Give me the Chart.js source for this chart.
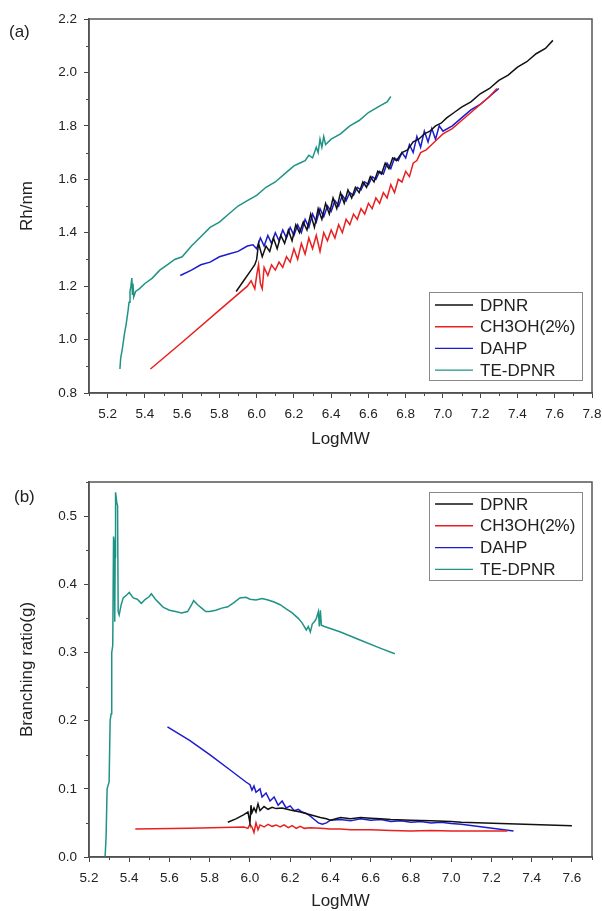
<!DOCTYPE html>
<html><head><meta charset="utf-8">
<script src="https://cdn.jsdelivr.net/npm/chart.js@4.4.1/dist/chart.umd.min.js"></script>
<style>
html,body{margin:0;padding:0;background:#fff;}
#wrap{position:relative;width:602px;height:911px;overflow:hidden;}
canvas{position:absolute;left:0;}
#c1{top:0}
#c2{top:450px}
.pl{position:absolute;font-family:"Liberation Sans",Arial,sans-serif;font-size:17px;color:#222;}
</style></head><body>
<div id="wrap">
<canvas id="c1" width="602" height="450"></canvas>
<canvas id="c2" width="602" height="461"></canvas>
<div class="pl" style="left:9px;top:22px;">(a)</div>
<div class="pl" style="left:14px;top:487px;">(b)</div>
</div>
<script>
// ---- series names / colours
const seriesNames = ['DPNR', 'CH3OH(2%)', 'DAHP', 'TE-DPNR'];
const seriesColors = ['#111111', '#e8201f', '#1c1ccf', '#1f9386'];

// ---- panel (a): Rh/nm vs LogMW  [LogMW, Rh]
const topDpnr = [[5.89,1.18],[5.93,1.22],[5.97,1.26],[5.99,1.28],[6.00,1.30],[6.01,1.36],[6.03,1.31],[6.05,1.35],[6.07,1.33],[6.09,1.38],[6.11,1.34],[6.13,1.39],[6.15,1.36],[6.17,1.41],[6.19,1.37],[6.21,1.43],[6.23,1.40],[6.25,1.44],[6.27,1.41],[6.29,1.47],[6.31,1.42],[6.33,1.49],[6.35,1.45],[6.37,1.51],[6.39,1.47],[6.41,1.53],[6.43,1.49],[6.45,1.55],[6.47,1.51],[6.49,1.56],[6.51,1.53],[6.53,1.57],[6.55,1.55],[6.57,1.59],[6.59,1.57],[6.61,1.61],[6.63,1.59],[6.65,1.63],[6.67,1.62],[6.69,1.66],[6.71,1.64],[6.73,1.68],[6.75,1.67],[6.78,1.70],[6.81,1.71],[6.84,1.74],[6.87,1.75],[6.90,1.77],[6.93,1.78],[6.96,1.80],[6.99,1.81],[7.02,1.83],[7.06,1.85],[7.10,1.87],[7.15,1.89],[7.20,1.92],[7.25,1.94],[7.30,1.97],[7.35,1.99],[7.40,2.02],[7.45,2.04],[7.50,2.07],[7.55,2.09],[7.59,2.12]];
const topCh3oh = [[5.43,0.89],[5.60,0.99],[5.80,1.11],[5.95,1.20],[5.97,1.22],[5.99,1.19],[6.00,1.24],[6.01,1.28],[6.02,1.21],[6.03,1.19],[6.04,1.27],[6.06,1.24],[6.08,1.28],[6.10,1.26],[6.12,1.29],[6.14,1.27],[6.16,1.31],[6.18,1.29],[6.20,1.34],[6.22,1.30],[6.24,1.36],[6.26,1.32],[6.28,1.38],[6.30,1.34],[6.32,1.39],[6.34,1.33],[6.36,1.40],[6.38,1.37],[6.40,1.41],[6.42,1.38],[6.44,1.43],[6.46,1.40],[6.48,1.45],[6.50,1.43],[6.52,1.47],[6.54,1.45],[6.56,1.49],[6.58,1.47],[6.60,1.51],[6.62,1.49],[6.64,1.53],[6.66,1.51],[6.68,1.55],[6.70,1.53],[6.72,1.58],[6.74,1.55],[6.76,1.60],[6.78,1.59],[6.80,1.63],[6.82,1.61],[6.84,1.66],[6.86,1.67],[6.88,1.70],[6.91,1.71],[6.94,1.73],[6.97,1.75],[7.00,1.77],[7.05,1.79],[7.10,1.82],[7.15,1.85],[7.20,1.88],[7.25,1.91],[7.29,1.94]];
const topDahp = [[5.59,1.24],[5.65,1.26],[5.70,1.28],[5.75,1.29],[5.80,1.31],[5.85,1.32],[5.90,1.33],[5.95,1.35],[5.98,1.355],[6.00,1.34],[6.02,1.38],[6.04,1.35],[6.06,1.39],[6.08,1.36],[6.10,1.40],[6.12,1.37],[6.14,1.41],[6.16,1.38],[6.18,1.42],[6.20,1.39],[6.22,1.43],[6.24,1.40],[6.26,1.45],[6.28,1.42],[6.30,1.47],[6.32,1.44],[6.34,1.49],[6.36,1.46],[6.38,1.50],[6.40,1.48],[6.42,1.52],[6.44,1.50],[6.46,1.54],[6.48,1.52],[6.50,1.55],[6.52,1.54],[6.54,1.57],[6.56,1.56],[6.58,1.59],[6.60,1.58],[6.62,1.61],[6.64,1.60],[6.66,1.63],[6.68,1.62],[6.70,1.66],[6.72,1.64],[6.74,1.68],[6.76,1.67],[6.78,1.70],[6.80,1.68],[6.82,1.73],[6.84,1.70],[6.86,1.76],[6.88,1.72],[6.90,1.78],[6.92,1.74],[6.94,1.79],[6.96,1.75],[6.98,1.80],[7.00,1.78],[7.05,1.80],[7.10,1.83],[7.15,1.86],[7.20,1.88],[7.25,1.91],[7.30,1.94]];
const topTeDpnr = [[5.266,0.89],[5.27,0.93],[5.28,0.97],[5.29,1.02],[5.30,1.06],[5.31,1.11],[5.315,1.14],[5.32,1.18],[5.325,1.20],[5.33,1.23],[5.333,1.17],[5.336,1.21],[5.34,1.16],[5.35,1.18],[5.37,1.19],[5.40,1.21],[5.44,1.23],[5.48,1.26],[5.52,1.28],[5.56,1.30],[5.60,1.31],[5.65,1.35],[5.70,1.385],[5.75,1.42],[5.80,1.44],[5.85,1.47],[5.90,1.50],[5.95,1.52],[6.00,1.54],[6.05,1.57],[6.10,1.59],[6.15,1.62],[6.20,1.65],[6.23,1.66],[6.26,1.67],[6.28,1.69],[6.30,1.68],[6.32,1.72],[6.33,1.70],[6.34,1.75],[6.35,1.72],[6.36,1.76],[6.37,1.73],[6.40,1.75],[6.45,1.77],[6.50,1.80],[6.55,1.82],[6.60,1.85],[6.65,1.87],[6.70,1.89],[6.72,1.91]];

// ---- panel (b): Branching ratio(g) vs LogMW  [LogMW, g]
const botDpnr = [[5.89,0.051],[5.93,0.056],[5.97,0.062],[5.99,0.066],[6.00,0.050],[6.005,0.076],[6.01,0.065],[6.02,0.072],[6.03,0.066],[6.04,0.078],[6.05,0.068],[6.07,0.074],[6.09,0.070],[6.11,0.073],[6.13,0.071],[6.16,0.072],[6.20,0.069],[6.25,0.066],[6.30,0.062],[6.35,0.058],[6.38,0.056],[6.40,0.054],[6.45,0.058],[6.50,0.056],[6.55,0.058],[6.60,0.057],[6.65,0.056],[6.70,0.055],[6.80,0.054],[6.90,0.053],[7.00,0.052],[7.05,0.051],[7.60,0.046]];
const botCh3oh = [[5.43,0.041],[5.70,0.042],[5.97,0.044],[5.99,0.042],[6.00,0.048],[6.01,0.044],[6.02,0.036],[6.03,0.050],[6.04,0.040],[6.05,0.047],[6.07,0.044],[6.09,0.048],[6.11,0.045],[6.13,0.047],[6.15,0.044],[6.17,0.047],[6.19,0.043],[6.21,0.046],[6.23,0.042],[6.25,0.045],[6.27,0.042],[6.30,0.043],[6.35,0.042],[6.40,0.041],[6.45,0.041],[6.50,0.040],[6.60,0.040],[6.70,0.039],[6.80,0.038],[6.90,0.039],[7.00,0.038],[7.28,0.038]];
const botDahp = [[5.59,0.191],[5.70,0.171],[5.80,0.150],[5.90,0.128],[5.98,0.110],[6.00,0.106],[6.01,0.098],[6.02,0.104],[6.03,0.095],[6.05,0.100],[6.06,0.088],[6.08,0.094],[6.10,0.082],[6.12,0.088],[6.14,0.076],[6.16,0.082],[6.18,0.072],[6.20,0.075],[6.22,0.068],[6.24,0.070],[6.26,0.066],[6.28,0.064],[6.30,0.060],[6.32,0.055],[6.34,0.050],[6.36,0.048],[6.38,0.050],[6.40,0.054],[6.45,0.055],[6.50,0.053],[6.55,0.056],[6.60,0.054],[6.65,0.055],[6.70,0.052],[6.75,0.053],[6.80,0.051],[6.85,0.052],[6.90,0.050],[6.95,0.051],[7.00,0.049],[7.05,0.048],[7.31,0.038]];
const botTeDpnr = [[5.28,0.0],[5.285,0.03],[5.29,0.10],[5.30,0.11],[5.305,0.20],[5.31,0.21],[5.313,0.30],[5.318,0.31],[5.322,0.47],[5.326,0.46],[5.328,0.345],[5.33,0.44],[5.332,0.535],[5.338,0.52],[5.342,0.515],[5.345,0.36],[5.35,0.355],[5.36,0.37],[5.37,0.38],[5.39,0.385],[5.40,0.388],[5.42,0.38],[5.44,0.378],[5.46,0.372],[5.48,0.378],[5.50,0.382],[5.51,0.386],[5.53,0.378],[5.55,0.372],[5.57,0.366],[5.60,0.362],[5.63,0.36],[5.66,0.358],[5.69,0.36],[5.71,0.37],[5.72,0.376],[5.74,0.37],[5.76,0.365],[5.78,0.36],[5.80,0.36],[5.83,0.362],[5.86,0.365],[5.89,0.367],[5.92,0.373],[5.95,0.38],[5.98,0.381],[6.00,0.378],[6.03,0.377],[6.06,0.379],[6.09,0.377],[6.12,0.374],[6.15,0.370],[6.18,0.364],[6.21,0.358],[6.24,0.350],[6.26,0.343],[6.28,0.333],[6.29,0.338],[6.30,0.330],[6.31,0.342],[6.32,0.345],[6.33,0.350],[6.34,0.360],[6.345,0.338],[6.35,0.362],[6.355,0.340],[6.37,0.338],[6.45,0.330],[6.55,0.318],[6.65,0.306],[6.72,0.298]];

const FONT = '"Liberation Sans", Arial, sans-serif';
const TXT = '#222';

function isMajor(v, step) {
  const r = v / step;
  return Math.abs(r - Math.round(r)) < 1e-6;
}
function toPts(arr) { return arr.map(p => ({x: p[0], y: p[1]})); }

const framePlugin = {
  id: 'frame',
  afterDraw(chart, args, o) {
    const {ctx, chartArea: a} = chart;
    const xs = chart.scales.x, ys = chart.scales.y;
    ctx.save();
    ctx.strokeStyle = '#444'; ctx.lineWidth = 1;
    xs.ticks.forEach(t => {
      if (!isMajor(t.value, o.xMajor)) {
        const px = Math.round(xs.getPixelForValue(t.value)) + 0.5;
        ctx.beginPath(); ctx.moveTo(px, a.bottom); ctx.lineTo(px, a.bottom + 3); ctx.stroke();
      }
    });
    ys.ticks.forEach(t => {
      if (!isMajor(t.value, o.yMajor)) {
        const py = Math.round(ys.getPixelForValue(t.value)) + 0.5;
        ctx.beginPath(); ctx.moveTo(a.left, py); ctx.lineTo(a.left - 3, py); ctx.stroke();
      }
    });
    ctx.strokeStyle = '#555'; ctx.lineWidth = 1.5;
    ctx.strokeRect(a.left, a.top, a.right - a.left, a.bottom - a.top);
    const L = o.legend;
    ctx.fillStyle = '#fff';
    ctx.fillRect(L.x, L.y, L.w, L.h);
    ctx.strokeStyle = '#888'; ctx.lineWidth = 1;
    ctx.strokeRect(L.x + 0.5, L.y + 0.5, L.w, L.h);
    ctx.font = '17px ' + FONT;
    ctx.textBaseline = 'middle';
    chart.data.datasets.forEach((ds, i) => {
      const yy = L.y + L.first + i * L.gap;
      ctx.strokeStyle = ds.borderColor; ctx.lineWidth = 1.4;
      ctx.beginPath(); ctx.moveTo(L.x + 6, yy); ctx.lineTo(L.x + 44, yy); ctx.stroke();
      ctx.fillStyle = TXT;
      ctx.fillText(ds.label, L.x + 51, yy + 1);
    });
    ctx.restore();
  }
};

function makeChart(id, sets, cfg) {
  return new Chart(document.getElementById(id), {
    type: 'line',
    data: {
      datasets: sets.map((s, i) => ({
        label: seriesNames[i], data: toPts(s), borderColor: seriesColors[i],
        backgroundColor: seriesColors[i], borderWidth: 1.5, pointRadius: 0, tension: 0, fill: false
      }))
    },
    options: {
      responsive: false, animation: false, devicePixelRatio: 1,
      layout: {padding: cfg.padding},
      plugins: {legend: {display: false}, tooltip: {enabled: false}, frame: cfg.frame},
      scales: {
        x: {
          type: 'linear', min: cfg.xMin, max: cfg.xMax,
          afterFit: s => { s.height = cfg.xAxisH; s.paddingLeft = 0; s.paddingRight = 0; },
          border: {display: true, color: '#444', width: 1.5},
          grid: {drawOnChartArea: false, drawTicks: true, tickLength: 5, tickWidth: 1,
                 tickColor: c => isMajor(c.tick.value, cfg.frame.xMajor) ? '#444' : 'rgba(0,0,0,0)'},
          ticks: {stepSize: 0.1, autoSkip: false, maxRotation: 0, maxTicksLimit: 200, padding: 8,
                  color: TXT, font: {family: FONT, size: 13.5},
                  callback: v => isMajor(v, cfg.frame.xMajor) ? Number(v).toFixed(1) : ''},
          title: {display: true, text: 'LogMW', color: TXT, font: {family: FONT, size: 17, lineHeight: 1.1}, padding: {top: 0, bottom: cfg.xTitlePad}}
        },
        y: {
          type: 'linear', min: cfg.yMin, max: cfg.yMax,
          afterFit: s => { s.width = 89; s.paddingTop = 0; s.paddingBottom = 0; },
          border: {display: true, color: '#444', width: 1.5},
          grid: {drawOnChartArea: false, drawTicks: true, tickLength: 5, tickWidth: 1,
                 tickColor: c => isMajor(c.tick.value, cfg.frame.yMajor) ? '#444' : 'rgba(0,0,0,0)'},
          ticks: {stepSize: cfg.yStep, autoSkip: false, maxTicksLimit: 200, padding: 7,
                  color: TXT, font: {family: FONT, size: 13.5},
                  callback: v => isMajor(v, cfg.frame.yMajor) ? Number(v).toFixed(1) : ''},
          title: {display: true, text: cfg.yTitle, color: TXT, font: {family: FONT, size: 17, lineHeight: 1.1}, padding: {top: 18, bottom: 0}}
        }
      }
    },
    plugins: [framePlugin]
  });
}

makeChart('c1', [topDpnr, topCh3oh, topDahp, topTeDpnr], {
  padding: {left: 0, right: 10, top: 19, bottom: 0},
  xMin: 5.1, xMax: 7.8, yMin: 0.8, yMax: 2.2, yStep: 0.1,
  xAxisH: 57, xTitlePad: 1, yTitle: 'Rh/nm',
  frame: {xMajor: 0.2, yMajor: 0.2, legend: {x: 429, y: 292, w: 153, h: 88, first: 13, gap: 21.7}}
});
makeChart('c2', [botDpnr, botCh3oh, botDahp, botTeDpnr], {
  padding: {left: 0, right: 10, top: 32, bottom: 0},
  xMin: 5.2, xMax: 7.7, yMin: 0, yMax: 0.55, yStep: 0.05,
  xAxisH: 54, xTitlePad: 0, yTitle: 'Branching ratio(g)',
  frame: {xMajor: 0.2, yMajor: 0.1, legend: {x: 429, y: 42, w: 153, h: 88, first: 12, gap: 21.8}}
});
</script>
</body></html>
